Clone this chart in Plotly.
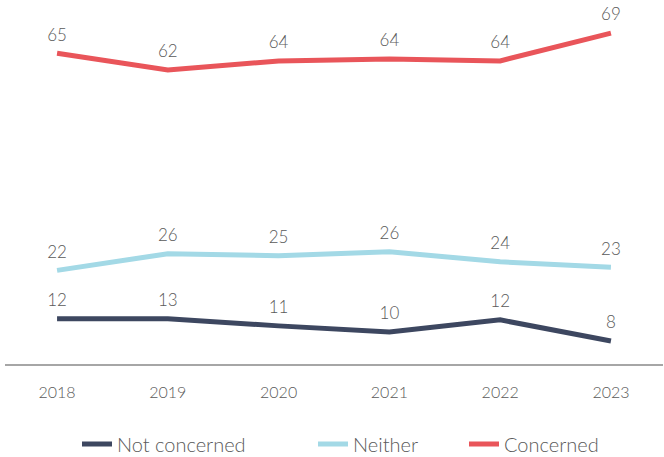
import plotly.graph_objects as go

years = ["2018", "2019", "2020", "2021", "2022", "2023"]
not_concerned = [12.4, 12.4, 11.0, 9.8, 12.2, 8.0]
not_concerned_labels = ["12", "13", "11", "10", "12", "8"]
neither = [22.0, 25.3, 24.9, 25.7, 23.7, 22.6]
neither_labels = ["22", "26", "25", "26", "24", "23"]
concerned = [65.0, 61.7, 63.5, 63.9, 63.5, 69.0]
concerned_labels = ["65", "62", "64", "64", "64", "69"]

series = [
    ("Not concerned", not_concerned, not_concerned_labels, "#3d4760", "legend", 77),
    ("Neither", neither, neither_labels, "#a3d9e6", "legend2", 313),
    ("Concerned", concerned, concerned_labels, "#e9555a", "legend3", 464),
]

TXT = "#5a5a5a"

fig = go.Figure()
legends = {}
for name, vals, labels, color, leg, lx in series:
    fig.add_trace(go.Scatter(
        x=list(range(len(years))), y=vals, name=name, legend=leg,
        mode="lines+markers+text", text=labels, textposition="top center",
        textfont=dict(size=17, color=TXT, family="Lato", weight=300),
        line=dict(color=color, width=5),
        marker=dict(size=12, color="rgba(0,0,0,0)"),
        cliponaxis=False,
        hoverinfo="skip",
    ))
    legends[leg] = dict(orientation="h", xref="container", yref="container",
                        x=lx / 664, xanchor="left", y=(457 - 444) / 457, yanchor="middle",
                        font=dict(size=20, color=TXT, family="Lato", weight=300),
                        bgcolor="rgba(0,0,0,0)", itemwidth=30)

fig.update_layout(
    width=664, height=457,
    margin=dict(l=5, r=1, t=18, b=92, autoexpand=False),
    paper_bgcolor="white", plot_bgcolor="white",
    font=dict(family="Lato", color=TXT),
    showlegend=True,
    xaxis=dict(range=[-0.47, 5.47], tickmode="array", tickvals=list(range(len(years))),
               ticktext=years, showgrid=False, zeroline=False, showline=False,
               tickfont=dict(size=16, color=TXT, family="Lato", weight=300), ticks="",
               ticklabelstandoff=16),
    yaxis=dict(range=[3.25, 72], visible=False, showgrid=False, zeroline=False),
    shapes=[dict(type="line", xref="paper", yref="paper", x0=0, x1=1, y0=0, y1=0,
                 line=dict(color="#888888", width=1.5))],
    **legends,
)

fig.write_html("out.html", config={"displayModeBar": False},
               post_script="document.body.style.margin='0';document.body.style.padding='0';")
